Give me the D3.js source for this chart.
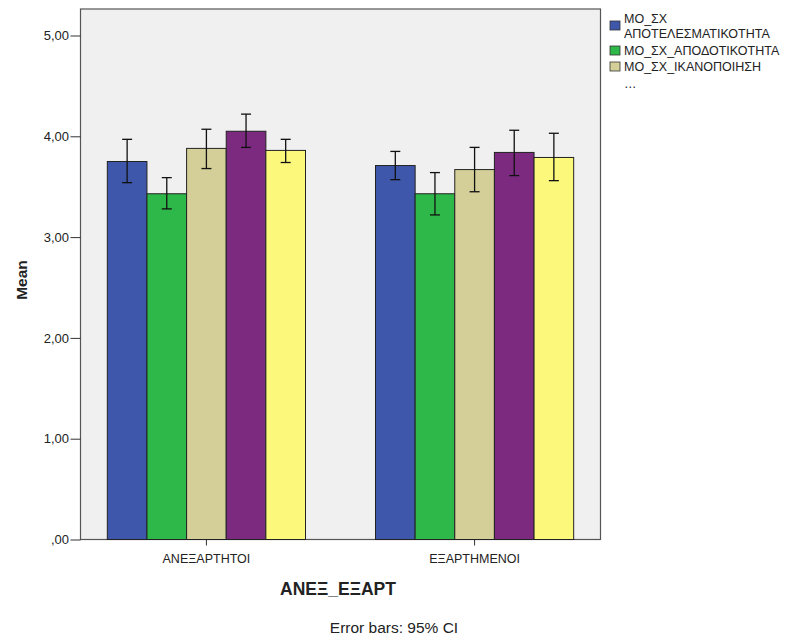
<!DOCTYPE html>
<html>
<head>
<meta charset="utf-8">
<script src="https://cdn.jsdelivr.net/npm/d3@7.9.0/dist/d3.min.js"></script>
<style>
  body { margin: 0; background: #fff; }
  text { font-family: "Liberation Sans", Arial, sans-serif; fill: #222; }
</style>
</head>
<body>
<svg id="chart" width="795" height="642"></svg>
<script>
const groups = ['ΑΝΕΞΑΡΤΗΤΟΙ', 'ΕΞΑΡΤΗΜΕΝΟΙ'];
const series = ['ΜΟ_ΣΧ_ΑΠΟΤΕΛΕΣΜΑΤΙΚΟΤΗΤΑ', 'ΜΟ_ΣΧ_ΑΠΟΔΟΤΙΚΟΤΗΤΑ', 'ΜΟ_ΣΧ_ΙΚΑΝΟΠΟΙΗΣΗ', 's4', 's5'];
const colors = ['#3f57ab', '#2fb84a', '#d4cf98', '#7c2a80', '#fbf87b'];
// means per group, one value per series
const means = [
  [3.75, 3.43, 3.88, 4.05, 3.86],
  [3.71, 3.43, 3.67, 3.84, 3.79]
];
const ciLow = [
  [3.54, 3.28, 3.68, 3.89, 3.74],
  [3.57, 3.22, 3.45, 3.61, 3.56]
];
const ciHigh = [
  [3.97, 3.59, 4.07, 4.22, 3.97],
  [3.85, 3.64, 3.89, 4.06, 4.03]
];
const yTicks = [0, 1, 2, 3, 4, 5];

const svg = d3.select('#chart');
const plotL = 80.5, plotR = 600.5, plotT = 9, plotB = 539.5;

const x = d3.scaleBand().domain(groups).range([plotL, plotR])
  .paddingInner(0.261).paddingOuter(0.1);
const xs = d3.scaleBand().domain(d3.range(series.length)).range([0, x.bandwidth()]);
const y = d3.scaleLinear().domain([0, 5]).range([plotB, plotB - 5 * 100.8]);

svg.append('rect')
  .attr('x', plotL).attr('y', plotT)
  .attr('width', plotR - plotL).attr('height', plotB - plotT)
  .attr('fill', '#f0f0f0').attr('stroke', '#555').attr('stroke-width', 1.2);

const fmt = (d) => d === 0 ? ',00' : d3.format('.2f')(d).replace('.', ',');

const yAxis = svg.append('g').attr('transform', `translate(${plotL},0)`)
  .call(d3.axisLeft(y).tickValues(yTicks).tickSize(10).tickPadding(1.5).tickFormat(fmt));
yAxis.select('.domain').remove();
yAxis.selectAll('line').attr('stroke', '#333');
yAxis.selectAll('text').attr('font-size', 13).attr('fill', '#333');

const xAxis = svg.append('g').attr('transform', `translate(0,${plotB})`)
  .call(d3.axisBottom(x).tickSize(6).tickPadding(9));
xAxis.select('.domain').remove();
xAxis.selectAll('line').attr('stroke', '#333');
xAxis.selectAll('text').attr('font-size', 12.5).attr('fill', '#222');

groups.forEach((g, gi) => {
  const gEl = svg.append('g').attr('transform', `translate(${x(g)},0)`);
  means[gi].forEach((m, si) => {
    gEl.append('rect')
      .attr('x', xs(si)).attr('y', y(m))
      .attr('width', xs.bandwidth()).attr('height', y(0) - y(m))
      .attr('fill', colors[si]).attr('stroke', '#222').attr('stroke-width', 1);
  });
  means[gi].forEach((m, si) => {
    const cx = xs(si) + xs.bandwidth() / 2;
    const lo = y(ciLow[gi][si]), hi = y(ciHigh[gi][si]);
    gEl.append('line').attr('x1', cx).attr('x2', cx).attr('y1', lo).attr('y2', hi)
      .attr('stroke', '#111').attr('stroke-width', 1.3);
    [lo, hi].forEach((yy) => {
      gEl.append('line').attr('x1', cx - 5).attr('x2', cx + 5).attr('y1', yy).attr('y2', yy)
        .attr('stroke', '#111').attr('stroke-width', 1.3);
    });
  });
});

svg.append('text')
  .attr('transform', 'translate(27,280) rotate(-90)')
  .attr('text-anchor', 'middle').attr('font-size', 15.5).attr('font-weight', 'bold')
  .text('Mean');

svg.append('text')
  .attr('x', 338).attr('y', 595).attr('text-anchor', 'middle')
  .attr('font-size', 17.5).attr('font-weight', 'bold')
  .text('ΑΝΕΞ_ΕΞΑΡΤ');

svg.append('text')
  .attr('x', 394).attr('y', 633).attr('text-anchor', 'middle')
  .attr('font-size', 15.5).attr('fill', '#333')
  .text('Error bars: 95% CI');

// legend (first three items, then ellipsis)
const legend = svg.append('g').attr('transform', 'translate(610,0)');
const legendY = [21, 46, 62];
const legendLines = [['ΜΟ_ΣΧ', 'ΑΠΟΤΕΛΕΣΜΑΤΙΚΟΤΗΤΑ'], [series[1]], [series[2]]];
legendLines.forEach((lines, i) => {
  legend.append('rect')
    .attr('x', 0).attr('y', legendY[i])
    .attr('width', 10).attr('height', 9)
    .attr('fill', colors[i]).attr('stroke', '#333').attr('stroke-width', 0.8);
  lines.forEach((t, li) => {
    legend.append('text')
      .attr('x', 14).attr('y', lines.length > 1 ? (li === 0 ? 23 : 38) : legendY[i] + 9)
      .attr('font-size', 12.5).attr('fill', '#222')
      .text(t);
  });
});
legend.append('text').attr('x', 14).attr('y', 88).attr('font-size', 12.5).attr('fill', '#444').text('…');
</script>
</body>
</html>
